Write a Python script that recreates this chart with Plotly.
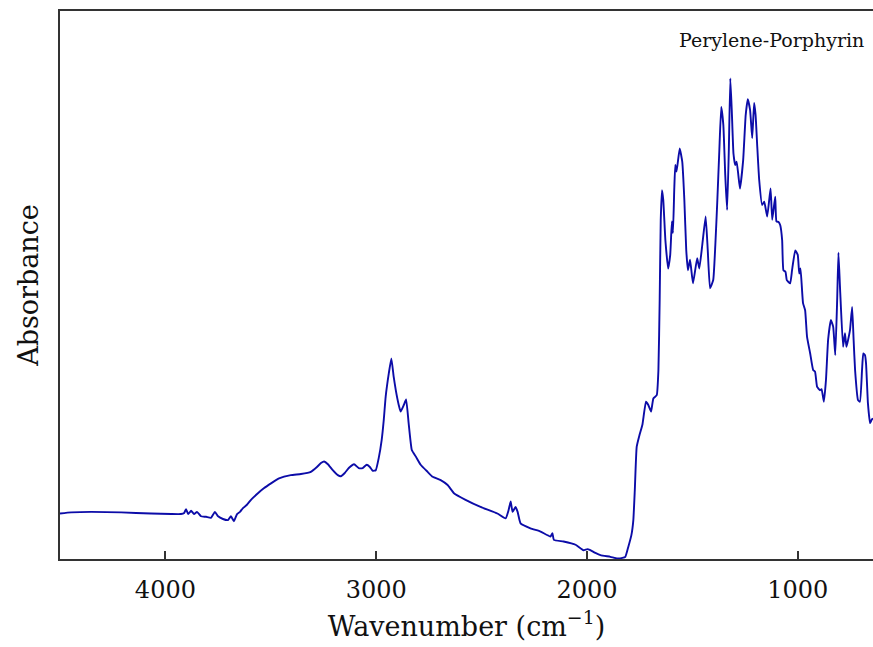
import plotly.graph_objects as go

# Wavenumber (cm^-1) and absorbance (arbitrary units)
wavenumber = [
    4500, 4447, 4352, 4210, 4068, 3973, 3926, 3911, 3902, 3892, 3878, 3864, 3850, 3831,
    3807, 3784, 3765, 3750, 3727, 3703, 3689, 3675, 3660, 3646, 3632, 3613, 3594, 3561,
    3533, 3499, 3461, 3405, 3357, 3310, 3281, 3262, 3247, 3229, 3206, 3182, 3168, 3149,
    3130, 3105, 3083, 3064, 3045, 3030, 3016, 3002, 2988, 2974, 2964, 2955, 2940, 2928,
    2917, 2907, 2893, 2884, 2869, 2858, 2846, 2831, 2812, 2789, 2756, 2732, 2694, 2661,
    2631, 2576, 2505, 2425, 2386, 2372, 2362, 2353, 2339, 2329, 2315, 2268, 2220, 2173,
    2164, 2157, 2111, 2054, 2017, 1998, 1984, 1960, 1936, 1889, 1856, 1832, 1818, 1804,
    1789, 1780, 1773, 1764, 1751, 1737, 1720, 1709, 1696, 1685, 1669, 1661, 1655, 1650,
    1644, 1638, 1628, 1615, 1605, 1597, 1592, 1586, 1581, 1575, 1560, 1548, 1538, 1529,
    1521, 1511, 1497, 1477, 1467, 1453, 1437, 1427, 1416, 1401, 1391, 1382, 1372, 1363,
    1353, 1344, 1335, 1327, 1320, 1313, 1305, 1297, 1290, 1282, 1274, 1259, 1247, 1237,
    1226, 1216, 1207, 1200, 1192, 1183, 1169, 1159, 1145, 1129, 1121, 1107, 1101, 1091,
    1083, 1074, 1068, 1058, 1052, 1036, 1027, 1012, 1000, 993, 987, 975, 965, 956,
    941, 927, 918, 908, 894, 887, 876, 866, 856, 843, 832, 822, 813, 807,
    799, 785, 776, 769, 761, 752, 742, 735, 728, 714, 705, 695, 689, 681,
    676, 667, 657, 648, 633,
]
absorbance = [
    0.083, 0.085, 0.086, 0.085, 0.083, 0.082, 0.082, 0.084, 0.091, 0.082, 0.088, 0.082, 0.086, 0.078,
    0.077, 0.075, 0.086, 0.078, 0.073, 0.071, 0.078, 0.069, 0.082, 0.086, 0.093, 0.099, 0.108, 0.120,
    0.129, 0.138, 0.147, 0.153, 0.155, 0.159, 0.168, 0.175, 0.178, 0.173, 0.162, 0.153, 0.151, 0.157,
    0.166, 0.173, 0.166, 0.166, 0.172, 0.168, 0.161, 0.162, 0.184, 0.217, 0.254, 0.296, 0.339, 0.366,
    0.333, 0.308, 0.281, 0.269, 0.281, 0.291, 0.248, 0.199, 0.187, 0.172, 0.159, 0.150, 0.144, 0.135,
    0.120, 0.108, 0.095, 0.083, 0.074, 0.089, 0.105, 0.086, 0.095, 0.086, 0.065, 0.056, 0.050, 0.041,
    0.047, 0.035, 0.032, 0.026, 0.016, 0.018, 0.016, 0.011, 0.007, 0.004, 0.001, 0.002, 0.004, 0.022,
    0.044, 0.071, 0.126, 0.205, 0.226, 0.245, 0.287, 0.281, 0.269, 0.293, 0.299, 0.345, 0.473, 0.619,
    0.673, 0.655, 0.582, 0.530, 0.555, 0.616, 0.595, 0.673, 0.719, 0.707, 0.749, 0.725, 0.655, 0.564,
    0.527, 0.546, 0.503, 0.549, 0.530, 0.573, 0.625, 0.564, 0.494, 0.509, 0.573, 0.650, 0.746, 0.825,
    0.792, 0.701, 0.637, 0.746, 0.877, 0.819, 0.740, 0.719, 0.725, 0.701, 0.676, 0.728, 0.810, 0.839,
    0.819, 0.768, 0.832, 0.810, 0.752, 0.692, 0.646, 0.652, 0.625, 0.676, 0.619, 0.661, 0.616, 0.615,
    0.609, 0.582, 0.527, 0.524, 0.509, 0.503, 0.527, 0.563, 0.555, 0.521, 0.530, 0.467, 0.454, 0.406,
    0.375, 0.345, 0.342, 0.314, 0.308, 0.310, 0.287, 0.327, 0.400, 0.436, 0.424, 0.372, 0.473, 0.559,
    0.491, 0.387, 0.412, 0.387, 0.400, 0.418, 0.460, 0.400, 0.345, 0.290, 0.287, 0.345, 0.375, 0.372,
    0.357, 0.284, 0.248, 0.255, 0.257,
]
x_ticks = [4000, 3000, 2000, 1000]
x_tick_labels = ["4000", "3000", "2000", "1000"]
sample_label = "Perylene-Porphyrin"

SERIF = "DejaVu Serif"

fig = go.Figure()
fig.add_trace(go.Scatter(
    x=wavenumber, y=absorbance, mode="lines",
    line=dict(color="#0c0ca8", width=1.9, shape="spline", smoothing=0.4),
    showlegend=False, hoverinfo="x+y",
))

fig.update_layout(
    width=873, height=647,
    margin=dict(l=60, r=0, t=11, b=88),
    paper_bgcolor="white", plot_bgcolor="white",
    font=dict(family=SERIF, color="#111"),
    annotations=[dict(
        text=sample_label, xref="paper", yref="paper", x=0.991, y=0.947,
        xanchor="right", yanchor="middle", showarrow=False,
        font=dict(family=SERIF, size=19, color="#111"),
    )],
)
fig.update_xaxes(
    range=[4500, 643], tickvals=x_ticks, ticktext=x_tick_labels,
    ticks="inside", ticklen=8, tickwidth=1.5, tickcolor="#333",
    showline=True, linecolor="#333", linewidth=2, mirror=True,
    showgrid=False, zeroline=False, ticklabelstandoff=8,
    tickfont=dict(family=SERIF, size=24, color="#111"),
    title=dict(text="Wavenumber (cm<sup>−1</sup>)", standoff=14,
               font=dict(family=SERIF, size=27, color="#111")),
)
fig.update_yaxes(
    range=[0, 1], showticklabels=False, ticks="",
    showline=True, linecolor="#333", linewidth=2, mirror=False,
    showgrid=False, zeroline=False,
    title=dict(text="Absorbance", standoff=12,
               font=dict(family=SERIF, size=27, color="#111")),
)

fig.write_html("out.html", config={"displayModeBar": False},
               post_script="document.body.style.margin='0';")
